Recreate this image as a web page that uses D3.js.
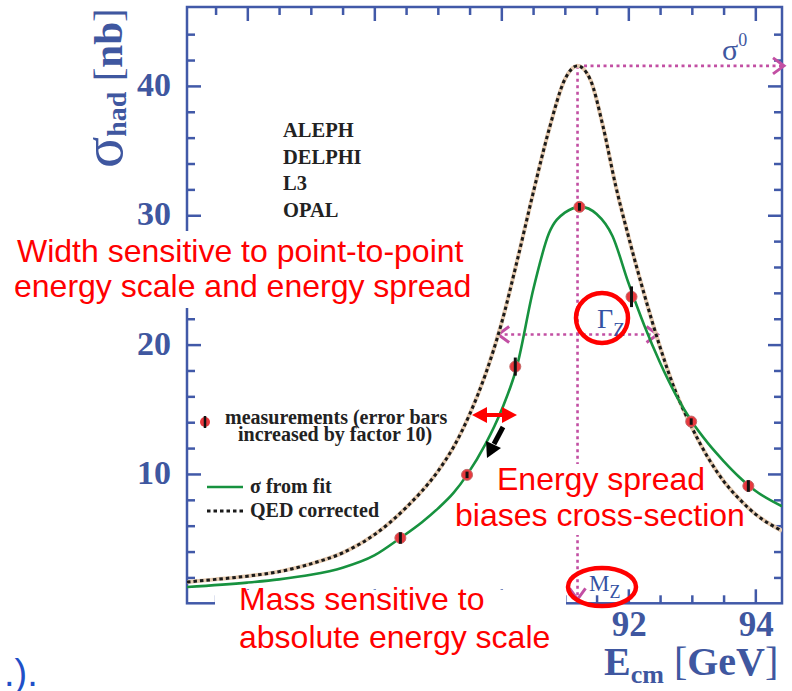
<!DOCTYPE html>
<html><head><meta charset="utf-8">
<script src="https://cdn.jsdelivr.net/npm/d3@7"></script>
<style>body{margin:0;background:#fff} svg{display:block}</style>
</head><body>
<svg id="chart" width="792" height="691"></svg>
<script>
// ---- data ----
const qedE     = [85.05, 85.5, 86, 86.5, 87, 87.5, 88, 88.5, 89, 89.25, 89.5, 89.75, 90, 90.25, 90.5, 90.75, 91, 91.2, 91.4, 91.6, 91.8, 92, 92.25, 92.5, 92.75, 93, 93.25, 93.5, 93.75, 94, 94.42];
const qedSigma = [1.65, 1.85, 2.1, 2.45, 3.05, 3.9, 5.3, 7.4, 10.2, 12.1, 14.6, 17.7, 21.6, 26.5, 31.7, 36.6, 40.5, 41.55, 40.5, 36.9, 32.3, 28.4, 23.9, 19.8, 16.3, 13.6, 11.3, 9.45, 8.05, 6.9, 5.6];
const fitE     = [85.05, 86, 86.5, 87, 87.5, 88, 88.41, 88.75, 89, 89.25, 89.46, 89.75, 90, 90.25, 90.5, 90.75, 91, 91.25, 91.5, 91.75, 92, 92.25, 92.5, 92.75, 93, 93.25, 93.5, 93.75, 94, 94.42];
const fitSigma = [1.26, 1.6, 1.85, 2.2, 2.75, 3.7, 5.05, 6.27, 7.32, 8.55, 9.93, 12.3, 14.9, 18.4, 24.2, 28.6, 30.2, 30.65, 30.1, 28.4, 24.8, 21.5, 18.6, 16.1, 14.05, 12.4, 11.0, 9.75, 8.7, 7.5];
const measE     = [88.41, 89.46, 90.22, 91.23, 92.05, 92.99, 93.89];
const measSigma = [5.05, 9.93, 18.3, 30.65, 23.7, 14.05, 9.07];
const measErr   = [0.45, 0.25, 0.7, 0.3, 0.8, 0.25, 0.45];
const xMajorTicks = [86, 88, 90, 92, 94];
const xTickLabels = [92, 94];            // 86, 88, 90 are hidden behind the annotation box
const yMajorTicks = [10, 20, 30, 40];
const experiments = ["ALEPH", "DELPHI", "L3", "OPAL"];
const mZ = 91.2, sigma0 = 41.55, halfMax = 20.78, gammaLo = 89.95, gammaHi = 92.46;

// ---- layout ----
const L = 187, R = 782, T = 7, B = 603.3;
const axisBlue = "#4159a8", labelBlue = "#3f57a0", magenta = "#c24fa3";
const serif = "'Liberation Serif','Times New Roman',serif";
const sans = "'Liberation Sans',Arial,sans-serif";

const svg = d3.select("#chart");
const x = d3.scaleLinear().domain([85.05, 94.42]).range([L, R]);
const y = d3.scaleLinear().domain([0, 46.1]).range([B, T]);

svg.append("defs").append("clipPath").attr("id", "clip")
  .append("rect").attr("x", L).attr("y", T).attr("width", R - L).attr("height", B - T);

// frame
svg.append("rect").attr("x", L).attr("y", T).attr("width", R - L).attr("height", B - T)
  .attr("fill", "none").attr("stroke", axisBlue).attr("stroke-width", 2.5);

// ticks (inward, on all four sides)
const xMinor = d3.range(85.5, 94.41, 0.5).filter(v => !xMajorTicks.includes(v));
const yMinor = d3.range(2, 45, 2).filter(v => !yMajorTicks.includes(v));
function styleAxis(g) { g.select(".domain").remove(); g.selectAll("line").attr("stroke", axisBlue).attr("stroke-width", 2.5); g.selectAll("text").remove(); }
svg.append("g").attr("transform", `translate(0,${B})`).call(d3.axisBottom(x).tickValues(xMajorTicks).tickSize(-14)).call(styleAxis);
svg.append("g").attr("transform", `translate(0,${B})`).call(d3.axisBottom(x).tickValues(xMinor).tickSize(-8)).call(styleAxis);
svg.append("g").attr("transform", `translate(0,${T})`).call(d3.axisTop(x).tickValues(xMajorTicks).tickSize(-14)).call(styleAxis);
svg.append("g").attr("transform", `translate(0,${T})`).call(d3.axisTop(x).tickValues(xMinor).tickSize(-8)).call(styleAxis);
svg.append("g").attr("transform", `translate(${L},0)`).call(d3.axisLeft(y).tickValues(yMajorTicks).tickSize(-14)).call(styleAxis);
svg.append("g").attr("transform", `translate(${L},0)`).call(d3.axisLeft(y).tickValues(yMinor).tickSize(-8)).call(styleAxis);
svg.append("g").attr("transform", `translate(${R},0)`).call(d3.axisRight(y).tickValues(yMajorTicks).tickSize(-14)).call(styleAxis);
svg.append("g").attr("transform", `translate(${R},0)`).call(d3.axisRight(y).tickValues(yMinor).tickSize(-8)).call(styleAxis);

// tick labels
svg.append("g").selectAll("text").data(xTickLabels).join("text")
  .attr("x", d => x(d) + 1).attr("y", 636).attr("text-anchor", "middle")
  .attr("font-family", serif).attr("font-weight", "bold").attr("font-size", 35).attr("fill", labelBlue).text(d => d);
svg.append("g").selectAll("text").data(yMajorTicks).join("text")
  .attr("x", 171).attr("y", d => y(d) + 10).attr("text-anchor", "end")
  .attr("font-family", serif).attr("font-weight", "bold").attr("font-size", 34).attr("fill", labelBlue).text(d => d);

// axis titles
const yt = svg.append("text").attr("transform", "translate(122,168) rotate(-90)")
  .attr("font-family", serif).attr("font-weight", "bold").attr("fill", labelBlue);
yt.append("tspan").attr("font-size", 58).attr("font-weight", "normal").text("σ");
yt.append("tspan").attr("font-size", 28).attr("dy", 4).text("had");
yt.append("tspan").attr("font-size", 41).attr("dy", -4).attr("font-weight", "normal").text(" [");
yt.append("tspan").attr("font-size", 41).text("nb");
yt.append("tspan").attr("font-size", 41).attr("font-weight", "normal").text("]");

const xt = svg.append("text").attr("x", 604).attr("y", 675)
  .attr("font-family", serif).attr("font-weight", "bold").attr("fill", labelBlue);
xt.append("tspan").attr("font-size", 40).text("E");
xt.append("tspan").attr("font-size", 26).attr("dy", 8).text("cm");
xt.append("tspan").attr("font-size", 40).attr("dy", -8).attr("font-weight", "normal").text(" [");
xt.append("tspan").attr("font-size", 40).text("GeV");
xt.append("tspan").attr("font-size", 40).attr("font-weight", "normal").text("]");

// magenta dotted construction lines
const mg = svg.append("g").attr("stroke", magenta).attr("fill", "none").attr("stroke-width", 2.6);
mg.append("line").attr("x1", x(mZ)).attr("x2", R + 1).attr("y1", y(sigma0)).attr("y2", y(sigma0)).attr("stroke-dasharray", "3,3.5");
mg.append("line").attr("x1", x(mZ)).attr("x2", x(mZ)).attr("y1", y(sigma0)).attr("y2", B - 4).attr("stroke-dasharray", "3,3.5");
mg.append("line").attr("x1", x(gammaLo)).attr("x2", x(gammaHi)).attr("y1", y(halfMax)).attr("y2", y(halfMax)).attr("stroke-dasharray", "3,3.5");
function chevron(tx, ty, dir) {
  const a = 11, b = 8;
  let p;
  if (dir === "right") p = [[tx - a, ty - b], [tx, ty], [tx - a, ty + b]];
  else if (dir === "left") p = [[tx + a, ty - b], [tx, ty], [tx + a, ty + b]];
  else p = [[tx - b, ty - a], [tx, ty], [tx + b, ty - a]];
  mg.append("path").attr("d", d3.line()(p)).attr("stroke-width", 3);
}
chevron(R + 2, y(sigma0), "right");
chevron(x(gammaLo), y(halfMax), "left");
chevron(x(gammaHi), y(halfMax), "right");
chevron(x(mZ), B - 4, "down");

// white boxes behind annotation texts
const wb = svg.append("g").attr("fill", "#fff");
wb.append("rect").attr("x", 8).attr("y", 231).attr("width", 468).attr("height", 77);
wb.append("rect").attr("x", 215).attr("y", 590).attr("width", 351).attr("height", 70);
wb.append("rect").attr("x", 493).attr("y", 464).attr("width", 214).attr("height", 36);
wb.append("rect").attr("x", 451).attr("y", 500).attr("width", 292).attr("height", 35);

// curves
const plot = svg.append("g").attr("clip-path", "url(#clip)");
const qedData = qedE.map((e, i) => ({e, s: qedSigma[i]}));
const fitData = fitE.map((e, i) => ({e, s: fitSigma[i]}));
const line = d3.line().x(d => x(d.e)).y(d => y(d.s)).curve(d3.curveMonotoneX);
plot.append("path").datum(qedData).attr("d", line).attr("fill", "none").attr("stroke", "#e6cbb0").attr("stroke-width", 4);
plot.append("path").datum(qedData).attr("d", line).attr("fill", "none").attr("stroke", "#1a1a1a").attr("stroke-width", 3).attr("stroke-dasharray", "3.5,3");
plot.append("path").datum(fitData).attr("d", line).attr("fill", "none").attr("stroke", "#17923f").attr("stroke-width", 2.6);

// measurements
const pts = plot.append("g");
measE.forEach((e, i) => {
  pts.append("circle").attr("cx", x(e)).attr("cy", y(measSigma[i])).attr("r", 5.5)
    .attr("fill", "#e8393e").attr("stroke", "#c46a6a").attr("stroke-width", 1);
  pts.append("line").attr("x1", x(e)).attr("x2", x(e))
    .attr("y1", y(measSigma[i] - measErr[i])).attr("y2", y(measSigma[i] + measErr[i]))
    .attr("stroke", "#111").attr("stroke-width", 3);
});

// experiments
svg.append("g").selectAll("text").data(experiments).join("text")
  .attr("x", 283).attr("y", (d, i) => 137 + i * 26.5)
  .attr("font-family", serif).attr("font-weight", "bold").attr("font-size", 20.5).attr("fill", "#222").text(d => d);

// legend
const lg = svg.append("g").attr("font-family", serif).attr("font-weight", "bold").attr("font-size", 20).attr("fill", "#222");
lg.append("circle").attr("cx", 205).attr("cy", 422).attr("r", 5).attr("fill", "#e8393e");
lg.append("line").attr("x1", 205).attr("x2", 205).attr("y1", 416).attr("y2", 428).attr("stroke", "#111").attr("stroke-width", 2.5);
lg.append("text").attr("x", 225).attr("y", 424).text("measurements (error bars");
lg.append("text").attr("x", 238).attr("y", 441).text("increased by factor 10)");
lg.append("line").attr("x1", 207).attr("x2", 243).attr("y1", 487).attr("y2", 487).attr("stroke", "#17923f").attr("stroke-width", 2.6);
lg.append("text").attr("x", 250).attr("y", 493).text("σ from fit");
lg.append("line").attr("x1", 207).attr("x2", 243).attr("y1", 511).attr("y2", 511).attr("stroke", "#1a1a1a").attr("stroke-width", 3).attr("stroke-dasharray", "3.5,3");
lg.append("text").attr("x", 250).attr("y", 517).text("QED corrected");

// symbol labels
const s0 = svg.append("text").attr("x", 722).attr("y", 60).attr("font-family", serif).attr("fill", labelBlue);
s0.append("tspan").attr("font-size", 30).text("σ");
s0.append("tspan").attr("font-size", 18).attr("dy", -14).text("0");
const gz = svg.append("text").attr("x", 597).attr("y", 328).attr("font-family", serif).attr("fill", "#3552a3");
gz.append("tspan").attr("font-size", 28).text("Γ");
gz.append("tspan").attr("font-size", 19).attr("dy", 8).text("Z");
const mzl = svg.append("text").attr("x", 589).attr("y", 591).attr("font-family", serif).attr("fill", "#3552a3");
mzl.append("tspan").attr("font-size", 23).text("M");
mzl.append("tspan").attr("font-size", 18).attr("dy", 7).text("Z");

// red annotation texts
const rt = svg.append("g").attr("font-family", sans).attr("font-size", 32).attr("fill", "#ff0000");
rt.append("text").attr("x", 17).attr("y", 262).text("Width sensitive to point-to-point");
rt.append("text").attr("x", 14).attr("y", 297).text("energy scale and energy spread");
rt.append("text").attr("x", 497).attr("y", 490).text("Energy spread");
rt.append("text").attr("x", 455).attr("y", 526).text("biases cross-section");
rt.append("text").attr("x", 239).attr("y", 610).text("Mass sensitive to");
rt.append("text").attr("x", 239).attr("y", 648).text("absolute energy scale");

// red ellipses
svg.append("ellipse").attr("cx", 602).attr("cy", 318).attr("rx", 26).attr("ry", 25)
  .attr("fill", "none").attr("stroke", "#ff0000").attr("stroke-width", 4.5);
svg.append("ellipse").attr("cx", 602).attr("cy", 587).attr("rx", 34).attr("ry", 19)
  .attr("fill", "none").attr("stroke", "#ff0000").attr("stroke-width", 4.5);

// red double arrow
const ra = svg.append("g").attr("fill", "#ff0000");
ra.append("line").attr("x1", 484).attr("x2", 505).attr("y1", 415).attr("y2", 415).attr("stroke", "#ff0000").attr("stroke-width", 4);
ra.append("path").attr("d", "M472,415 L487,407 L487,423 Z");
ra.append("path").attr("d", "M517,415 L502,407 L502,423 Z");
// black arrow
svg.append("line").attr("x1", 503).attr("y1", 427).attr("x2", 494).attr("y2", 444).attr("stroke", "#000").attr("stroke-width", 5);
svg.append("path").attr("d", "M487,458 L486,441 L501,448 Z").attr("fill", "#000");

// clipped slide text at bottom-left
svg.append("text").attr("x", 4).attr("y", 686).attr("font-family", sans).attr("font-size", 38).attr("fill", "#1f50c8").text(".).");
</script>
</body></html>
